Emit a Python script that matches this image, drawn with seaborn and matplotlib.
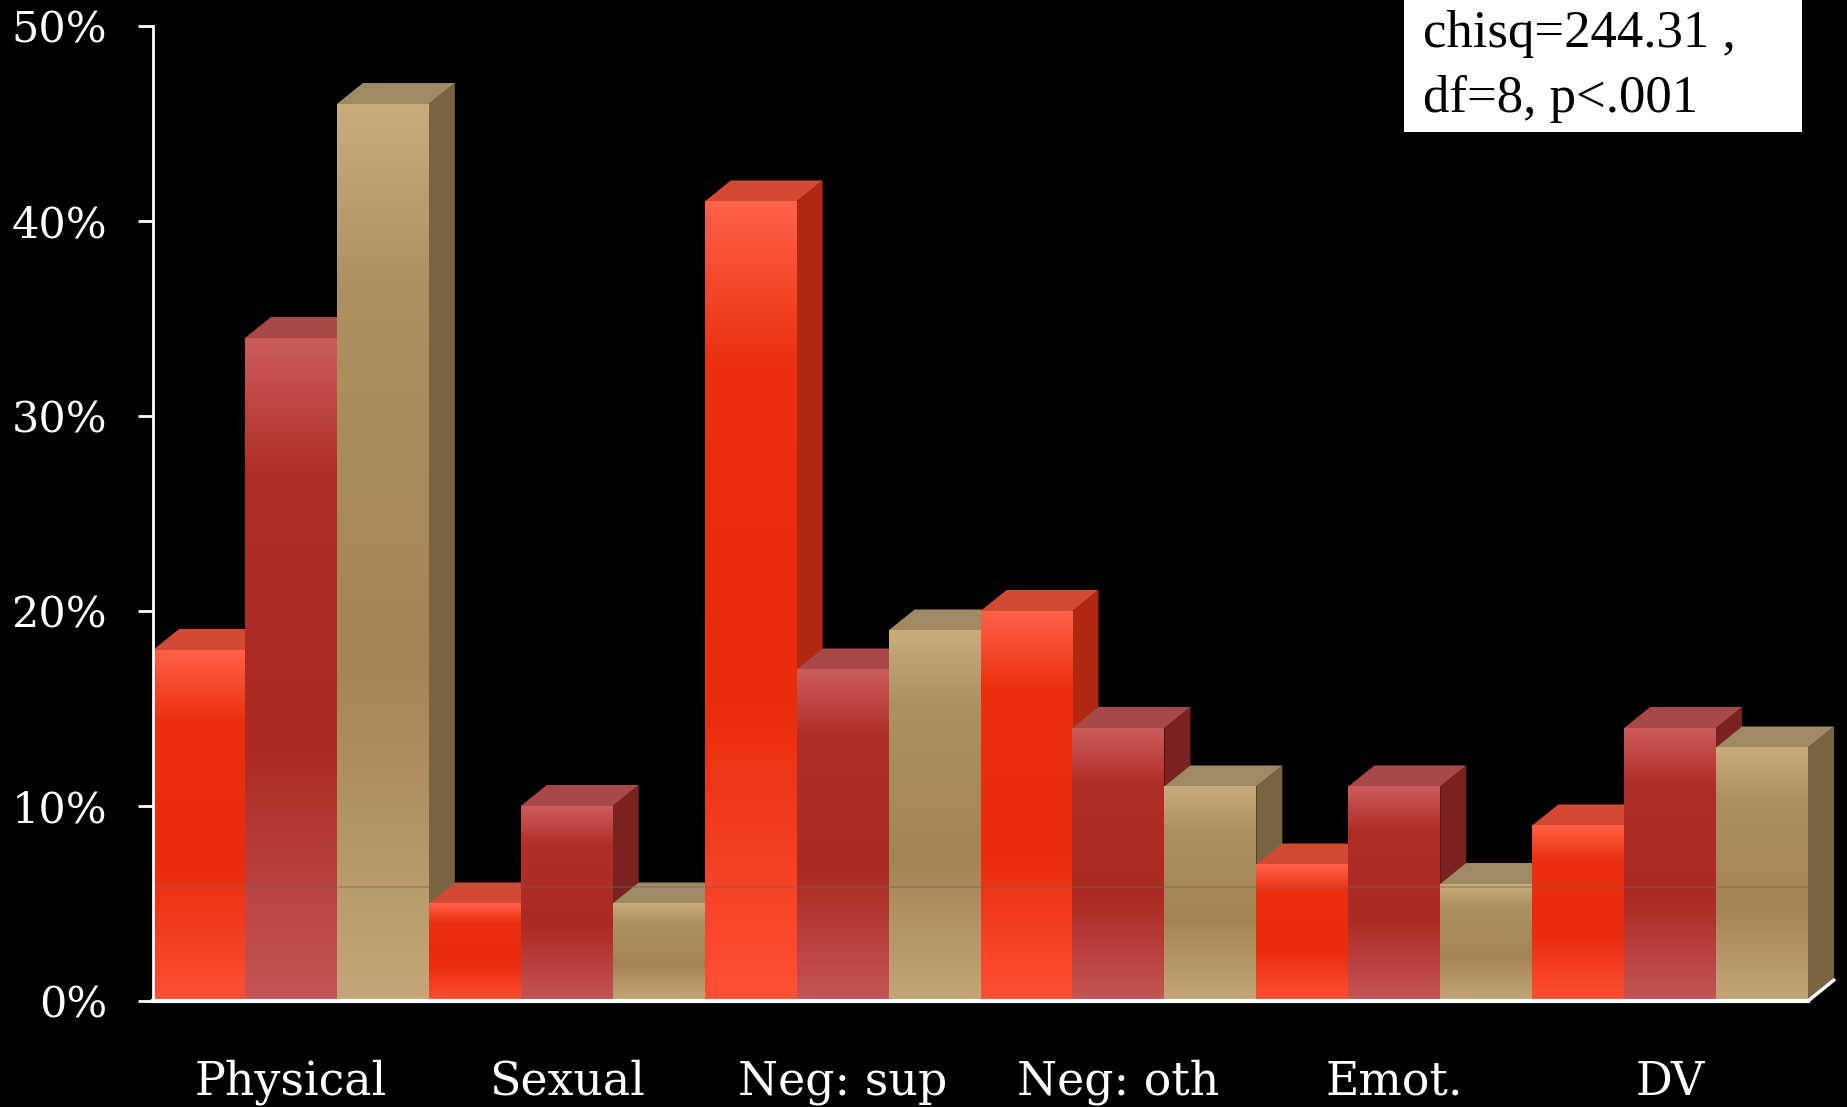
import numpy as np
import pandas as pd
import seaborn as sns
import matplotlib
matplotlib.use('Agg')
import matplotlib.pyplot as plt
from matplotlib.colors import LinearSegmentedColormap
from matplotlib.patches import Polygon, Rectangle

# data (percent)
categories = ['Physical', 'Sexual', 'Neg: sup', 'Neg: oth', 'Emot.', 'DV']
groups = ['Group 1', 'Group 2', 'Group 3']
pct_group1 = [18, 5, 41, 20, 7, 9]
pct_group2 = [34, 10, 17, 14, 11, 14]
pct_group3 = [46, 5, 19, 11, 6, 13]
y_ticks = [0, 10, 20, 30, 40, 50]
stats_lines = ['chisq=244.31 ,', 'df=8, p<.001']

# styling
front_colors = ['#EC3314', '#B22D27', '#B09060']
gradient_stops = [
    ['#FF5036', '#E82C0C', '#EA300F', '#FF6248'],
    ['#C45656', '#AC2A24', '#B02E27', '#CC5C5C'],
    ['#C4A678', '#A48452', '#AE9160', '#C8AC7C'],
]
top_colors = ['#D24A34', '#A84848', '#A08A64']
side_colors = ['#B02812', '#7A2222', '#786440']
depth_px = (26, 21)

sns.set_style('white')
plt.rcParams['font.family'] = ['DejaVu Serif']

df = pd.DataFrame({
    'category': categories * 3,
    'group': np.repeat(groups, len(categories)),
    'pct': pct_group1 + pct_group2 + pct_group3,
})

W, H = 1847, 1107
fig = plt.figure(figsize=(W / 100, H / 100), dpi=100, facecolor='black')
ax = fig.add_axes([153 / W, 106 / H, 1655 / W, 975 / H])
ax.set_facecolor('black')

sns.barplot(data=df, x='category', y='pct', hue='group', palette=front_colors,
            width=1.0, gap=0, saturation=1, errorbar=None, legend=False,
            linewidth=0, ax=ax)
ax.set_xlim(-0.5, 5.5)
ax.set_ylim(0, 50)

# pixel depth -> data units
origin = ax.transData.transform((0, 0))
back = ax.transData.inverted().transform(origin + np.array(depth_px))
dx, dy = back[0] - 0, back[1] - 0

cmaps = [LinearSegmentedColormap.from_list(f'g{k}', list(zip([0, 0.38, 0.8, 1.0], s)))
         for k, s in enumerate(gradient_stops)]
grad = np.linspace(0, 1, 256).reshape(-1, 1)

bars = sorted([p for p in ax.patches if p.get_width() > 0], key=lambda p: p.get_x())
for idx, p in enumerate(bars):
    k = idx % 3
    x0, w, h = p.get_x(), p.get_width(), p.get_height()
    x1 = x0 + w
    base = 2 + idx * 0.1
    p.set_zorder(base)
    ax.imshow(grad, extent=[x0, x1, 0, h], origin='lower', aspect='auto',
              cmap=cmaps[k], zorder=base + 0.01, interpolation='bicubic')
    ax.add_patch(Polygon([(x1, 0), (x1 + dx, dy), (x1 + dx, h + dy), (x1, h)],
                         closed=True, fc=side_colors[k], ec='none',
                         zorder=base - 0.05, clip_on=False))
    ax.add_patch(Polygon([(x0, h), (x1, h), (x1 + dx, h + dy), (x0 + dx, h + dy)],
                         closed=True, fc=top_colors[k], ec='none',
                         zorder=base - 0.04, clip_on=False))

# floor edge on the right
xr = ax.get_xlim()[1]
ax.plot([xr, xr + dx], [0, dy], color='white', lw=2.5, clip_on=False, zorder=10)

# faint seam line running across the slide
ax.axhline(5.85, color='#6a6a55', lw=1.2, alpha=0.45, zorder=9)

ax.set_xlim(-0.5, 5.5)
ax.set_ylim(0, 50)

sns.despine(ax=ax, top=True, right=True)
for side, lw in [('left', 2), ('bottom', 3)]:
    ax.spines[side].set_color('white')
    ax.spines[side].set_linewidth(lw)
    ax.spines[side].set_zorder(10)

ax.set_yticks(y_ticks)
ax.set_yticklabels([f'{t}%' for t in y_ticks])
ax.tick_params(axis='y', left=True, colors='white', length=11, width=2,
               direction='out', pad=22, labelsize=31)
ax.tick_params(axis='x', bottom=False, length=0, pad=42, labelsize=33,
               labelcolor='white')
ax.set_xlabel('')
ax.set_ylabel('')

# stats box
fig.add_artist(Rectangle((1404 / W, (H - 132) / H), 398 / W, 132 / H,
                         transform=fig.transFigure, facecolor='white',
                         edgecolor='none', zorder=20))
for i, line in enumerate(stats_lines):
    fig.text(1423 / W, (H - 47 - 65 * i) / H, line, va='baseline', ha='left',
             color='black', fontsize=38, family=['Liberation Serif'], zorder=21)

fig.savefig('out.png', dpi=100, facecolor='black')
